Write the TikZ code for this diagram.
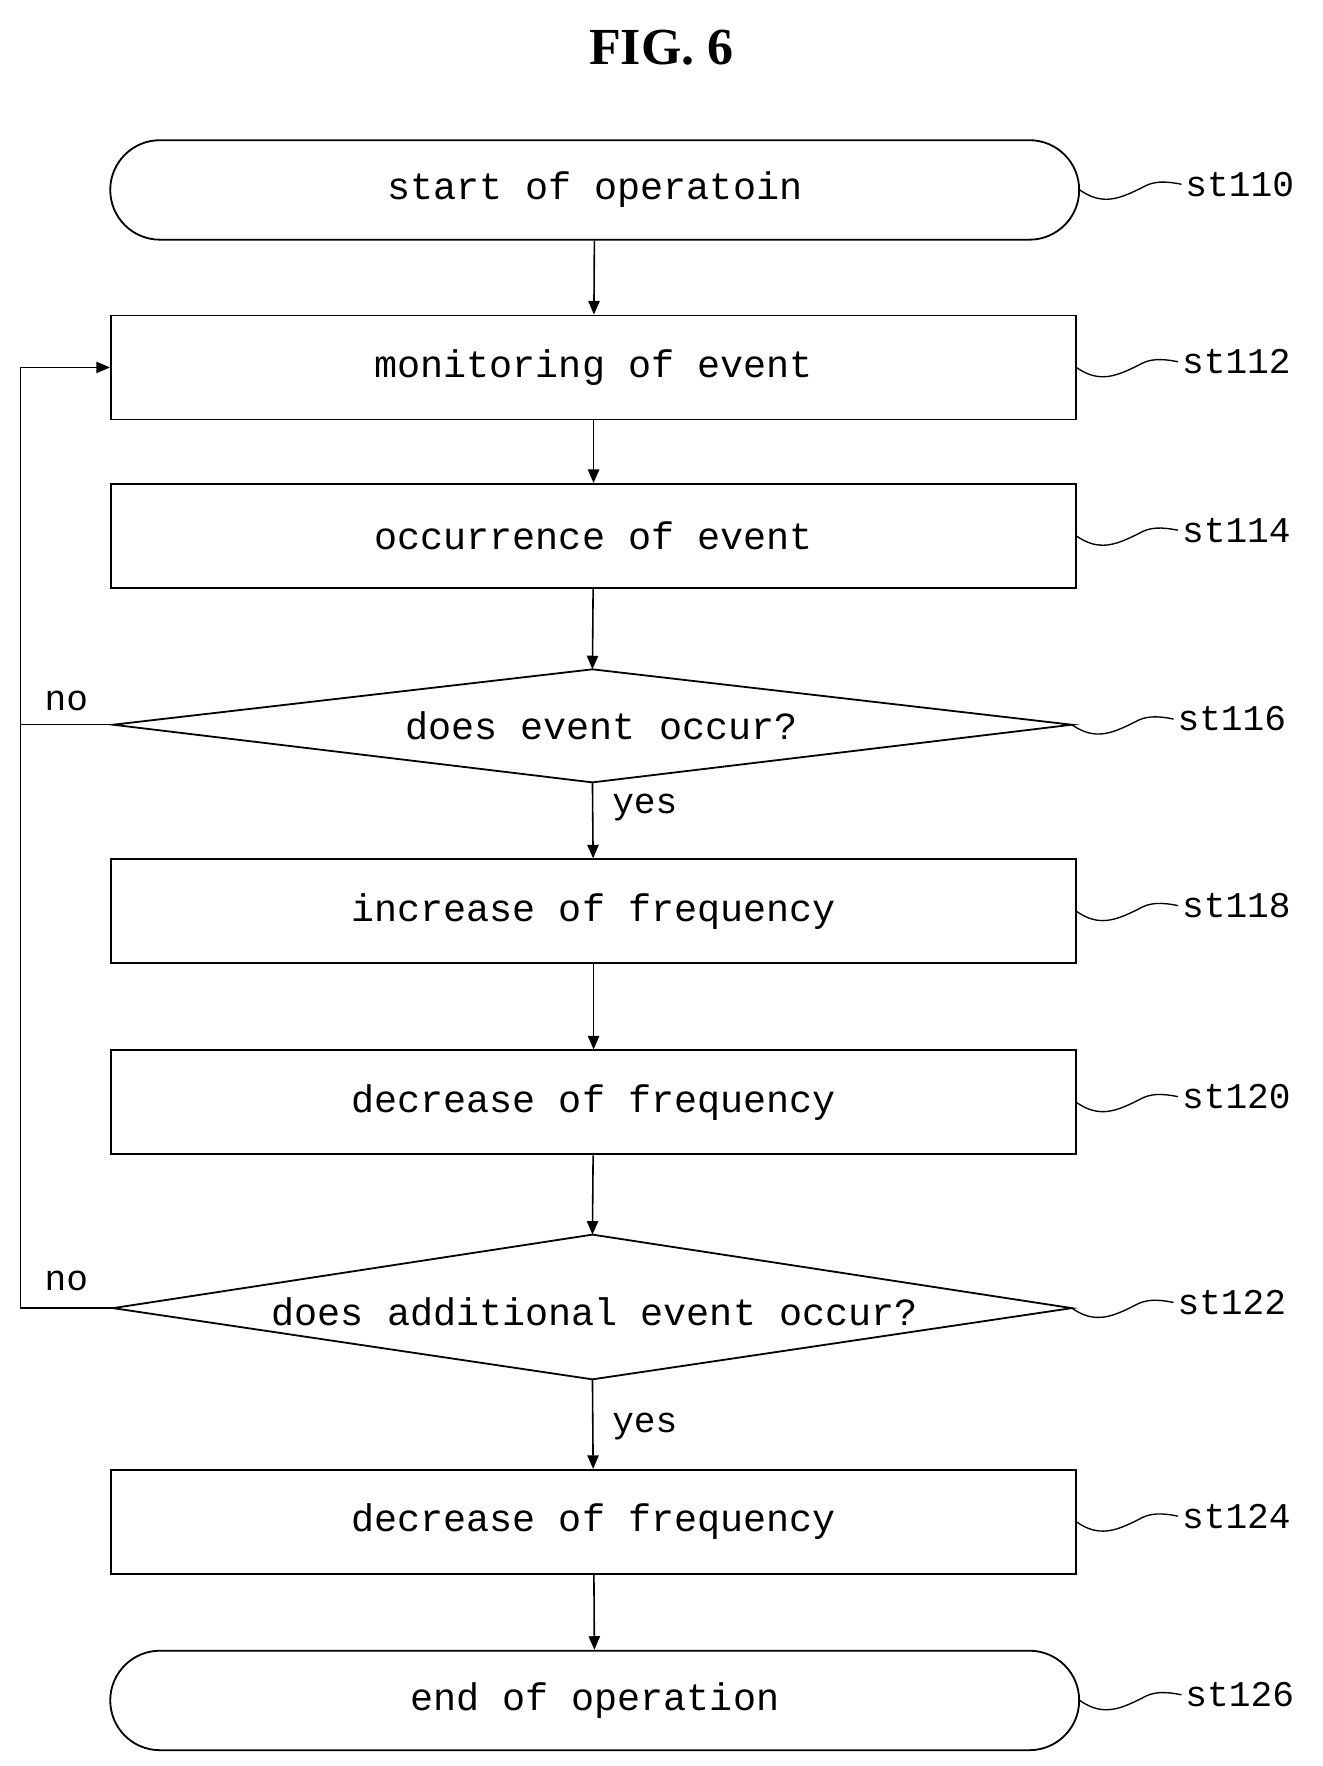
\documentclass[tikz,border=0pt]{standalone}
\usepackage{fontspec}
\setmainfont{Liberation Serif}
\newfontfamily\mono{Liberation Mono}
\usetikzlibrary{shapes.geometric,arrows.meta}
\begin{document}
\begin{tikzpicture}[x=1pt,y=-1pt,
  txt/.style={font=\mono\fontsize{34}{38}\selectfont},
  box/.style={draw,line width=1.6pt,minimum width=854pt,minimum height=92pt,txt},
  term/.style={draw,line width=1.6pt,rounded corners=44pt,minimum width=857pt,minimum height=88pt,txt},
  arr/.style={line width=1.4pt,-{Triangle[length=12pt,width=10pt]}},
  lab/.style={font=\mono\fontsize{32}{36}\selectfont,anchor=west},
  sq/.style={line width=1.2pt}]
\useasboundingbox (0,0) rectangle (1170,1562);
\node[font=\bfseries\fontsize{46}{50}\selectfont] (title) at (585,42) {FIG. 6};
\node[term] (n110) at (526,168) {start of operatoin};
\node[box] (n112) at (525,325) {monitoring of event};
\node[box] (n114) at (525,474) {occurrence of event};
\node[box] (n118) at (525,806) {increase of frequency};
\node[box] (n120) at (525,975) {decrease of frequency};
\node[box] (n124) at (525,1346) {decrease of frequency};
\node[term] (n126) at (526,1504) {end of operation};
\draw[line width=1.6pt] (100,641) coordinate (d1l) -- (524,592) coordinate (d1t) -- (948,641) coordinate (d1r) -- (524,692) coordinate (d1b) -- cycle;
\node[txt] (t116) at (532,642) {does event occur?};
\draw[line width=1.6pt] (100,1157) coordinate (d2l) -- (524,1092) coordinate (d2t) -- (948,1157) coordinate (d2r) -- (524,1220) coordinate (d2b) -- cycle;
\node[txt] (t122) at (526,1160) {does additional event occur?};
\draw[arr] (n110) -- (n112);
\draw[arr] (n112) -- (n114);
\draw[arr] (n114) -- (d1t);
\draw[arr] (d1b) -- (n118);
\draw[arr] (n118) -- (n120);
\draw[arr] (n120) -- (d2t);
\draw[arr] (d2b) -- (n124);
\draw[arr] (n124) -- (n126);
\coordinate (c1) at (18,641);
\coordinate (c2) at (18,1157);
\coordinate (c3) at (18,325);
\draw[line width=1.2pt] (d1l) -- (c1);
\draw[arr,line width=1.2pt] (d2l) -- (c2) -- (c3) -- (n112.west);
\node[lab] (no1) at (36,620) {no};
\node[lab] (no2) at (36,1133) {no};
\node[lab] (y1) at (538,714) {yes};
\node[lab] (y2) at (538,1262) {yes};
\foreach \nm/\x/\y/\t in {a/955/168/st110, b/952/325/st112, c/952/474/st114, d/948/641/st116, e/952/806/st118, f/952/975/st120, g/948/1157/st122, h/952/1346/st124, i/955/1504/st126}{
  \coordinate (s\nm) at (\x,\y);
  \node[lab,anchor=west] (l\nm) at (\x+90,\y-5) {\t};
  \draw[sq] (s\nm) .. controls (\x+20,\y+14) and (\x+35,\y+8) .. (\x+55,\y-2) .. controls (\x+65,\y-8) and (\x+75,\y-8) .. (l\nm.west);
}
\end{tikzpicture}
\end{document}
